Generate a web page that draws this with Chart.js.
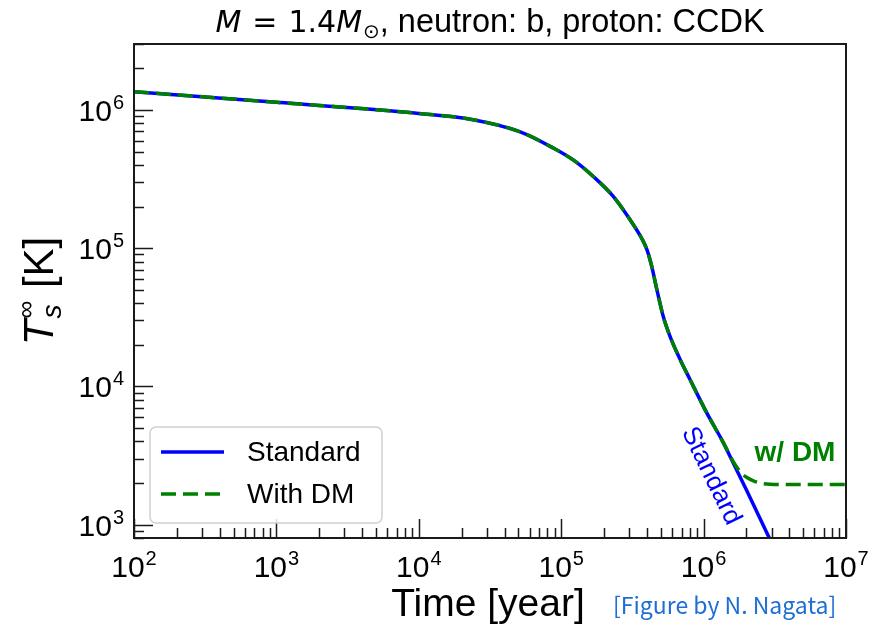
<!DOCTYPE html>
<html>
<head>
<meta charset="utf-8">
<script src="https://cdn.jsdelivr.net/npm/chart.js@4.4.0/dist/chart.umd.min.js"></script>
<style>
  html, body { margin: 0; padding: 0; background: #fff; }
  #coolingCurve { display: block; }
</style>
</head>
<body>
<canvas id="coolingCurve" width="883" height="624"></canvas>
<script>
// surface temperature vs. age, both on log axes
const timeStandard = [1e2, 1e3, 1e4, 2.3e4, 5.1e4, 8.8e4, 1.22e5, 1.68e5, 2.32e5, 3.04e5, 3.67e5, 4.0e5, 4.32e5, 4.68e5, 5.21e5, 5.81e5, 6.83e5, 8.03e5, 1.05e6, 1.375e6, 1.6e6, 2.0e6, 2.8e6, 3.5e6]
const tempStandard = [1.355e6, 1.135e6, 9.44e5, 8.57e5, 6.97e5, 5.3e5, 4.33e5, 3.3e5, 2.37e5, 1.61e5, 1.18e5, 9.75e4, 7.4e4, 5.1e4, 3.2e4, 2.3e4, 1.57e4, 1.12e4, 6.46e3, 3.92e3, 2.85e3, 1.78e3, 8.6e2, 5.3e2]

const timeDM = [1e2, 1e3, 1e4, 2.3e4, 5.1e4, 8.8e4, 1.22e5, 1.68e5, 2.32e5, 3.04e5, 3.67e5, 4.0e5, 4.32e5, 4.68e5, 5.21e5, 5.81e5, 6.83e5, 8.03e5, 1.05e6, 1.375e6, 1.6e6, 1.8e6, 2.0e6, 2.3e6, 2.6e6, 3.5e6, 1e7]
const tempDM = [1.355e6, 1.135e6, 9.44e5, 8.57e5, 6.97e5, 5.3e5, 4.33e5, 3.3e5, 2.37e5, 1.61e5, 1.18e5, 9.75e4, 7.4e4, 5.1e4, 3.2e4, 2.3e4, 1.57e4, 1.12e4, 6.46e3, 3.92e3, 2.9e3, 2.42e3, 2.2e3, 2.05e3, 1.98e3, 1.95e3, 1.95e3]

const xDecades = [2, 3, 4, 5, 6, 7]
const yDecades = [3, 4, 5, 6]
const seriesLabels = ['Standard', 'With DM']

const SANS = '"Liberation Sans", "DejaVu Sans", sans-serif'
const MATH = '"DejaVu Sans", sans-serif'
const INK = '#1a1a1a'

function toPoints(xs, ys) {
    return xs.map((x, i) => ({ x: x, y: ys[i] }))
}

// draws "10" with a raised exponent; align is 'center' or 'right'
function drawPower(ctx, exp, x, baseline, align) {
    const size = 30
    const supSize = 20
    ctx.font = size + 'px ' + SANS
    const wBase = ctx.measureText('10').width
    ctx.font = supSize + 'px ' + SANS
    const wExp = ctx.measureText(String(exp)).width
    const total = wBase + wExp + 1
    const left = align === 'center' ? x - total / 2 : x - total
    ctx.textAlign = 'left'
    ctx.textBaseline = 'alphabetic'
    ctx.font = size + 'px ' + SANS
    ctx.fillText('10', left, baseline)
    ctx.font = supSize + 'px ' + SANS
    ctx.fillText(String(exp), left + wBase + 1, baseline - 12)
}

// pieces are [text, font, dy, gapAfter]
function drawRuns(ctx, runs, x, baseline) {
    let cx = x
    for (const [text, font, dy, gap] of runs) {
        ctx.font = font
        ctx.fillText(text, cx, baseline + dy)
        cx += ctx.measureText(text).width + (gap || 0)
    }
}

function runsWidth(ctx, runs) {
    let w = 0
    for (const [text, font, dy, gap] of runs) {
        ctx.font = font
        w += ctx.measureText(text).width + (gap || 0)
    }
    return w
}

const axesDecor = {
    id: 'axesDecor',
    afterDatasetsDraw(chart) {
        const ctx = chart.ctx
        const area = chart.chartArea
        const xs = chart.scales.x
        const ys = chart.scales.y
        ctx.save()

        // frame
        ctx.strokeStyle = INK
        ctx.lineWidth = 2
        ctx.strokeRect(area.left, area.top, area.right - area.left, area.bottom - area.top)

        // inward ticks, majors at each decade
        ctx.lineWidth = 1.5
        ctx.beginPath()
        for (let e = 1; e <= 7; e++) {
            for (let m = 1; m <= 9; m++) {
                const v = m * Math.pow(10, e)
                const len = m === 1 ? 19 : 10
                if (v >= xs.min && v <= xs.max) {
                    const px = Math.round(xs.getPixelForValue(v)) + 0.5
                    ctx.moveTo(px, area.bottom)
                    ctx.lineTo(px, area.bottom - len)
                }
                if (v >= ys.min && v <= ys.max) {
                    const py = Math.round(ys.getPixelForValue(v)) + 0.5
                    ctx.moveTo(area.left, py)
                    ctx.lineTo(area.left + len, py)
                }
            }
        }
        ctx.stroke()

        // tick labels
        ctx.fillStyle = '#000'
        xDecades.forEach(e => {
            drawPower(ctx, e, xs.getPixelForValue(Math.pow(10, e)), 577, 'center')
        })
        yDecades.forEach(e => {
            drawPower(ctx, e, area.left - 10, ys.getPixelForValue(Math.pow(10, e)) + 11, 'right')
        })

        // title
        const tf = '32.5px ' + SANS
        const mf = '30px ' + MATH
        const mfi = 'oblique 30px ' + MATH
        const titleRuns = [
            ['M', mfi, 0, 11], ['=', mf, 0, 11], ['1.4', mf, 0, 0], ['M', mfi, 0, 1],
            ['\u2299', '20px ' + MATH, 6, 0],
            [', neutron: b, proton: CCDK', tf, 0, 0]
        ]
        ctx.textAlign = 'left'
        ctx.textBaseline = 'alphabetic'
        const cx = (area.left + area.right) / 2
        drawRuns(ctx, titleRuns, cx - runsWidth(ctx, titleRuns) / 2, 32)

        // x axis title
        ctx.font = '39px ' + SANS
        ctx.textAlign = 'center'
        ctx.fillText('Time [year]', cx - 2, 616)

        // y axis title, rotated
        ctx.save()
        ctx.translate(53, (area.top + area.bottom) / 2)
        ctx.rotate(-Math.PI / 2)
        ctx.textAlign = 'left'
        const yf = '42px ' + SANS
        ctx.font = 'italic 42px ' + SANS
        const wT = ctx.measureText('T').width
        ctx.font = 'italic 28px ' + SANS
        const wS = ctx.measureText('s').width
        ctx.font = '25px ' + SANS
        const wInf = ctx.measureText('\u221e').width
        ctx.font = yf
        const wK = ctx.measureText(' [K]').width
        const total = wT + Math.max(wS, wInf) + 2 + wK
        let px = -total / 2
        ctx.font = 'italic 42px ' + SANS
        ctx.fillText('T', px, 0)
        px += wT + 1
        ctx.font = 'italic 28px ' + SANS
        ctx.fillText('s', px, 8)
        ctx.font = '25px ' + SANS
        ctx.fillText('\u221e', px, -19)
        px += Math.max(wS, wInf) + 1
        ctx.font = yf
        ctx.fillText(' [K]', px, 0)
        ctx.restore()

        // credit
        ctx.fillStyle = '#1e6fd4'
        ctx.font = '23px "Noto Sans CJK JP", "Noto Sans", sans-serif'
        ctx.textAlign = 'left'
        ctx.fillText('[Figure by N. Nagata]', 613, 614)

        // line labels
        ctx.save()
        ctx.translate(711, 476)
        ctx.rotate(64 * Math.PI / 180)
        ctx.fillStyle = '#0000ff'
        ctx.font = '26px ' + SANS
        ctx.textAlign = 'center'
        ctx.textBaseline = 'middle'
        ctx.fillText('Standard', 0, 0)
        ctx.restore()

        ctx.fillStyle = '#008000'
        ctx.font = 'bold 28px ' + SANS
        ctx.textAlign = 'center'
        ctx.textBaseline = 'middle'
        ctx.fillText('w/ DM', 795, 453)

        // legend
        const lx = 150, ly = 427, lw = 232, lh = 96
        ctx.beginPath()
        ctx.roundRect(lx, ly, lw, lh, 6)
        ctx.fillStyle = 'rgba(255,255,255,0.85)'
        ctx.fill()
        ctx.strokeStyle = '#d0d0d0'
        ctx.lineWidth = 1.5
        ctx.stroke()

        const ds = chart.data.datasets
        const rows = [452, 494]
        seriesLabels.forEach((label, i) => {
            const d = ds.find(s => s.label === label)
            ctx.strokeStyle = d.borderColor
            ctx.lineWidth = d.borderWidth
            ctx.setLineDash(d.borderDash || [])
            ctx.beginPath()
            ctx.moveTo(161, rows[i])
            ctx.lineTo(224, rows[i])
            ctx.stroke()
            ctx.setLineDash([])
            ctx.fillStyle = '#000'
            ctx.font = '28px ' + SANS
            ctx.textAlign = 'left'
            ctx.textBaseline = 'middle'
            ctx.fillText(label, 247, rows[i] + 1)
        })

        ctx.restore()
    }
}

const coolingCurve = document.getElementById('coolingCurve')

new Chart(coolingCurve, {
    type: 'scatter',
    data: {
        datasets: [{
            label: seriesLabels[0],
            data: toPoints(timeStandard, tempStandard),
            showLine: true,
            borderColor: '#0000ff',
            borderWidth: 3.5,
            pointRadius: 0,
            cubicInterpolationMode: 'monotone',
            order: 1
        }, {
            label: seriesLabels[1],
            data: toPoints(timeDM, tempDM),
            showLine: true,
            borderColor: '#008000',
            borderWidth: 3.5,
            borderDash: [15, 7],
            pointRadius: 0,
            cubicInterpolationMode: 'monotone',
            order: 0
        }]
    },
    options: {
        responsive: false,
        animation: false,
        layout: {
            padding: { left: 134, top: 44, right: 37, bottom: 86 }
        },
        scales: {
            x: { type: 'logarithmic', min: 1e2, max: 1e7, display: false },
            y: { type: 'logarithmic', min: 800, max: 3e6, display: false }
        },
        plugins: {
            legend: { display: false },
            tooltip: { enabled: false }
        }
    },
    plugins: [axesDecor]
})
</script>
</body>
</html>
